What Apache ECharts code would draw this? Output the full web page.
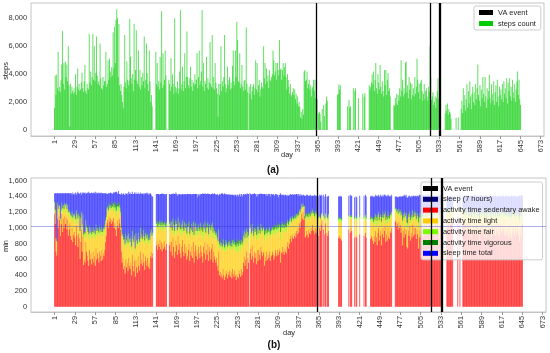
<!DOCTYPE html>
<html><head><meta charset="utf-8">
<script src="https://cdn.jsdelivr.net/npm/echarts@6/dist/echarts.min.js"></script>
<style>html,body{margin:0;padding:0;background:#fff}#c{width:550px;height:353px}</style>
</head><body><div id="c"></div>
<script>
const _ = null;
const tickDays = [1,29,57,85,113,141,169,197,225,253,281,309,337,365,393,421,449,477,505,533,561,589,617,645,673];
const vaDays = [363,520,533,534];
const sleepGoal = 1020;
const steps = [
1600,3900,2500,3950,3000,5600,2800,3100,2700,3600,4700,7100,3300,4800,2900,4900,3800,4700,3500,6000,
3200,240,3300,2600,3100,2800,2600,3000,2700,4000,2500,3100,4400,2900,3300,2800,2900,3400,4100,3000,
2700,3500,4650,2800,2600,3300,3000,2900,6900,3400,4200,3200,3800,6900,3600,6000,3500,4100,6700,3900,
3300,3500,3200,6200,3700,3000,2900,3800,3200,3500,3500,5600,3100,3300,5000,3600,5100,4200,3800,4500,
3900,7000,4400,7400,4800,7900,8650,8000,3800,7600,3200,2800,3300,2500,2000,1550,3100,6800,3400,3000,
4900,3600,3200,3500,7950,5250,3700,3300,4000,2800,7600,3600,4300,7150,3500,3300,5700,3100,4300,2900,
3800,3200,4100,3500,6700,3000,3600,6200,4060,3300,2800,5700,3500,2000,2500,1700,_,_,_,_,
5600,3300,4800,3100,3500,2900,5250,3400,8500,3000,5500,3200,3600,5700,3900,_,_,_,3600,3300,
2800,5150,3100,4000,3300,2600,8000,3100,2700,3000,3500,2600,3000,4200,8600,2900,3300,4550,2800,3500,
5500,3000,3800,7050,3800,3200,3000,3700,4550,3100,3600,2800,3400,3200,4000,3300,3600,5500,3000,3800,
5700,3200,3500,4200,8600,3100,4800,2800,3500,3300,5250,3000,3700,2900,3400,6300,3300,3100,6800,3000,
3800,2900,4800,3400,3000,2600,950,3300,2500,3300,6000,2800,3500,3100,3800,6800,3300,2700,3000,4550,
3200,3600,3800,2900,3400,3000,4600,5700,3500,3200,5700,3800,7750,6450,3500,3400,5500,3000,3300,4650,
3100,2800,3500,3600,2900,7350,3300,2700,_,3100,2600,3300,2200,2800,3100,3300,2500,3000,5000,2900,
4800,2700,3200,3600,2400,2900,3400,3100,3000,6000,3700,4800,3300,4400,3500,3900,3000,4300,3600,3500,
3800,4000,5700,5000,3900,4200,4800,3600,4800,4300,3900,6450,4300,4400,3600,4300,4800,3900,4500,4780,
3800,2900,4000,3600,3100,2600,3300,2400,2500,2700,3000,2500,2900,2200,2600,1900,2400,1700,2000,1670,
900,1300,800,1500,1100,4200,4300,3500,3600,4200,3000,3300,3600,2900,3200,2400,3000,3100,3600,2800,
3600,2300,_,2200,_,1200,1300,1150,600,_,1500,_,1800,1000,_,1900,2400,2100,_,_,
_,_,_,_,_,_,_,_,_,_,_,2500,2600,3270,2900,3200,_,_,_,_,
_,_,_,_,_,1700,_,2150,1600,1700,_,_,_,3000,_,2800,3000,_,_,_,
2300,_,_,_,_,_,2600,_,2400,2630,_,_,_,_,_,3200,2900,3100,3400,4000,
3300,4200,2800,3600,4800,3000,2600,4000,3400,2900,4660,3100,2600,3500,2800,2400,4300,3200,4300,2500,
3600,4060,2800,3000,2400,_,_,_,_,1800,1700,2300,1900,2600,1800,2500,2100,3000,2400,5000,
2800,3600,2400,3000,2600,4800,4900,2700,3200,2300,3800,2900,3400,2200,3300,2500,3000,2400,3800,2600,
3100,5100,3600,2700,3300,2200,3400,3600,2800,2100,2600,3300,2200,2800,3000,2400,2100,3100,2700,6000,
3800,2150,2400,2700,1800,2000,2400,1600,2300,2800,3700,2200,1900,_,_,_,_,_,_,_,
1200,1800,1400,1900,1100,1500,1300,1200,800,_,_,_,_,_,_,900,_,_,900,_,
_,_,1500,2100,1200,3000,1800,2500,1400,2200,3300,1600,2800,1900,3500,2400,1500,2600,3100,2000,
2700,1800,3300,2200,3000,4700,2500,2100,3200,1700,2900,2300,3800,2600,2000,3800,2400,1600,3000,2200,
2800,3950,2300,1900,3300,2600,2100,3500,1800,2700,3200,2000,3600,2400,1700,3100,2500,2900,2200,3300,
2000,3500,2600,3000,2300,3700,1900,3400,2800,3700,2400,3100,2100,3600,2700,2300,3300,2000,2900,3500,
4200,2500,3600,2200,1800];
const sedentary = [
1180,1050,700,650,1120,1000,1150,1100,900,1050,1180,950,1120,1000,1150,1050,1130,980,1100,900,
980,1060,900,850,1000,820,910,950,880,780,1020,900,760,930,870,610,820,980,700,900,
530,600,560,820,700,650,580,520,720,600,680,540,610,700,560,640,520,750,600,680,
620,560,700,650,580,720,600,680,640,720,820,900,1060,1100,1000,1140,1080,1120,1050,1100,
1080,1130,1000,1060,980,900,1020,1100,1000,1120,1060,980,700,560,620,480,520,420,600,500,
560,450,620,520,480,560,400,660,520,450,580,380,600,500,430,640,520,460,700,550,
600,520,680,560,470,640,580,520,620,500,560,480,640,700,620,680,_,_,_,_,
780,840,720,800,760,850,730,820,700,800,740,830,760,720,800,_,_,_,780,820,
700,820,650,880,760,620,700,840,780,660,900,720,800,680,620,760,850,700,640,800,
680,760,600,640,720,800,580,700,650,760,620,820,560,700,780,640,720,600,760,680,
620,780,700,640,560,760,680,820,600,720,660,800,580,760,700,600,740,800,560,700,
640,600,560,620,520,460,700,400,440,380,420,360,480,400,340,380,460,420,360,440,
400,460,380,440,360,480,420,380,460,400,340,420,380,360,460,420,380,480,400,440,
560,640,520,600,700,480,620,560,_,680,740,600,780,640,560,700,620,680,540,720,
580,720,660,600,760,700,640,680,700,520,640,580,700,600,660,620,700,580,640,660,
700,660,600,640,720,680,640,720,660,700,740,560,700,680,760,700,660,740,700,680,
760,820,740,800,860,900,820,920,880,860,900,940,880,960,920,1000,940,1060,1000,1080,
1180,1120,1200,1100,1150,880,900,960,920,880,980,940,920,1000,960,1040,980,960,920,1000,
940,980,_,900,_,1000,960,1040,1100,_,980,_,920,1060,_,940,900,960,_,_,
_,_,_,_,_,_,_,_,_,_,_,880,900,860,880,840,_,_,_,_,
_,_,_,_,_,980,_,940,1000,960,_,_,_,880,_,900,880,_,_,_,
920,_,_,_,_,_,900,_,940,880,_,_,_,_,_,860,900,880,840,800,
900,820,960,880,780,940,1000,840,900,960,780,920,1000,880,960,1020,820,920,840,1000,
880,860,960,940,1000,_,_,_,_,1080,1100,1020,1060,980,1080,1000,1040,940,1000,780,
960,880,1000,920,980,760,740,960,900,1020,840,940,880,1040,900,1000,920,1000,860,980,
920,740,880,980,900,1040,900,880,960,1060,1000,900,1040,960,940,1020,1060,920,980,700,
860,1020,980,960,1080,1040,980,1100,1000,960,860,1020,1060,_,_,_,_,_,_,_,
1080,1000,1060,980,1100,1040,1060,1080,1140,_,_,_,_,_,_,1120,_,_,1120,_,
_,_,1060,1000,1100,920,1040,960,1080,1000,900,1060,940,1040,880,980,1060,960,920,1020,
960,1040,920,1000,940,780,980,1020,920,1060,960,1000,880,960,1020,880,980,1060,940,1000,
960,860,1000,1040,920,980,1020,900,1060,960,920,1040,900,980,1060,940,980,960,1000,920,
1020,900,980,940,1000,880,1040,920,960,880,1000,940,1020,900,960,1000,920,1040,960,900,
820,980,900,1020,1060];
const light = [
120,150,140,160,170,200,120,150,180,150,110,250,140,200,140,200,150,220,160,250,
200,120,230,250,180,260,220,200,230,280,170,230,300,210,240,300,260,190,280,230,
330,300,320,240,280,300,320,340,260,300,280,330,300,270,330,290,340,250,310,280,
300,330,280,290,320,260,300,280,300,270,230,200,160,140,180,130,150,140,170,150,
150,140,200,180,220,250,200,140,210,130,160,180,250,300,260,320,300,330,280,300,
300,320,260,300,290,280,320,250,300,330,270,320,280,300,330,250,300,320,250,280,
280,300,250,290,320,260,280,310,260,300,290,320,260,240,250,230,_,_,_,_,
230,200,250,220,240,200,250,210,260,220,250,200,240,250,220,_,_,_,230,210,
260,220,280,200,240,290,260,210,230,270,190,250,230,270,280,240,200,250,280,230,
280,250,290,300,260,240,300,260,280,250,290,220,310,270,240,280,260,300,240,270,
290,240,260,280,300,240,270,220,300,260,280,230,300,240,260,290,250,230,300,260,
280,300,300,280,320,330,250,350,340,350,320,360,330,350,370,330,340,340,360,330,
340,330,350,330,360,320,340,340,320,340,350,340,330,330,330,340,340,320,350,330,
300,280,310,290,260,320,290,300,_,270,250,290,240,280,300,260,290,270,310,260,
290,260,270,290,250,260,280,270,270,310,280,290,260,290,270,290,270,290,280,280,
270,280,300,290,260,280,280,260,290,280,260,300,280,270,250,280,280,260,270,270,
260,240,260,240,220,200,230,200,210,220,200,190,210,180,200,160,190,140,170,140,
100,130,90,140,110,210,210,190,200,220,180,200,200,180,190,160,180,190,200,180,
200,180,_,200,_,120,140,110,80,_,150,_,170,100,_,170,190,180,_,_,
_,_,_,_,_,_,_,_,_,_,_,200,190,220,200,220,_,_,_,_,
_,_,_,_,_,150,_,170,140,160,_,_,_,210,_,200,210,_,_,_,
190,_,_,_,_,_,200,_,190,210,_,_,_,_,_,220,200,210,230,240,
200,230,180,210,250,190,170,220,200,180,240,190,170,210,180,160,230,190,220,170,
210,220,180,190,170,_,_,_,_,140,130,160,150,170,140,170,150,190,170,250,
180,210,170,200,180,250,260,180,200,160,220,190,210,160,200,170,200,170,210,180,
200,260,210,180,200,160,210,210,190,150,170,200,160,190,190,170,150,200,180,280,
220,160,180,180,140,160,180,130,170,180,220,160,150,_,_,_,_,_,_,_,
140,170,150,180,130,160,150,140,110,_,_,_,_,_,_,120,_,_,120,_,
_,_,150,170,130,200,160,190,140,170,210,150,200,160,220,180,150,190,200,170,
190,160,200,170,200,250,180,170,200,150,190,170,220,190,170,220,180,150,200,170,
190,220,170,160,200,180,170,210,150,190,200,160,210,180,150,200,180,190,170,200,
170,210,180,200,170,220,160,200,190,220,180,200,170,210,190,180,200,160,190,210,
240,180,210,170,150];
const fair = [
30,30,30,20,30,40,20,30,30,30,30,50,30,40,20,40,30,40,30,50,
40,20,40,50,30,50,40,30,40,50,30,40,60,40,40,50,50,30,50,40,
50,40,50,40,40,50,50,60,40,40,40,50,40,40,50,40,60,40,50,40,
40,50,40,40,50,40,50,40,40,40,40,40,30,30,40,30,30,30,30,30,
40,40,60,50,60,70,50,40,60,40,40,40,50,40,40,50,40,40,40,40,
40,40,50,40,50,40,40,50,40,40,50,40,50,40,40,50,40,40,50,40,
40,40,40,40,50,40,40,40,40,40,40,50,40,40,30,30,_,_,_,_,
40,40,50,40,40,40,50,40,70,40,50,40,40,50,40,_,_,_,40,40,
40,40,40,40,40,50,80,40,40,40,40,40,40,40,80,40,40,40,40,40,
40,40,40,70,40,40,40,40,40,40,40,40,40,40,40,40,40,60,40,40,
50,40,40,50,90,40,40,40,40,40,60,40,40,40,40,80,40,40,80,40,
40,40,50,40,40,40,30,40,40,40,70,40,40,40,40,70,40,40,40,50,
40,40,40,40,40,40,50,70,40,40,70,40,90,80,40,40,70,40,40,50,
40,40,40,40,30,80,40,40,_,40,40,40,30,40,40,40,40,40,60,40,
60,40,40,40,40,40,40,40,40,80,40,60,40,50,40,40,40,50,40,40,
40,40,70,60,40,40,60,50,50,40,40,90,50,50,40,50,60,40,50,60,
40,30,40,40,30,30,30,30,30,30,30,30,30,30,30,20,30,20,30,20,
20,20,20,30,20,40,40,30,30,40,30,30,30,30,30,30,30,30,30,30,
30,30,_,30,_,20,20,20,10,_,20,_,30,20,_,30,30,30,_,_,
_,_,_,_,_,_,_,_,_,_,_,30,30,40,30,40,_,_,_,_,
_,_,_,_,_,20,_,30,20,20,_,_,_,30,_,30,30,_,_,_,
30,_,_,_,_,_,30,_,30,30,_,_,_,_,_,30,30,30,40,40,
30,50,30,40,60,30,30,40,40,30,60,30,30,40,30,30,50,30,50,30,
40,40,30,30,30,_,_,_,_,20,20,30,20,30,20,30,30,30,30,60,
30,40,30,30,30,60,60,30,40,30,40,30,40,20,40,30,30,30,40,30,
30,70,40,30,40,30,40,40,30,30,30,40,30,30,30,30,30,30,30,80,
40,30,30,30,20,30,30,20,30,30,40,30,20,_,_,_,_,_,_,_,
20,30,20,30,20,30,20,20,20,_,_,_,_,_,_,20,_,_,20,_,
_,_,20,30,20,40,30,30,20,30,40,20,30,30,40,30,20,30,40,30,
30,20,40,30,30,60,30,30,40,20,30,30,40,30,30,40,30,20,30,30,
30,40,30,20,30,30,30,40,20,30,30,20,40,30,20,30,30,30,30,40,
20,40,30,30,30,40,20,30,30,40,30,30,20,40,30,30,30,20,30,40,
50,30,40,30,20];
const vigorous = [
0,10,10,0,10,20,0,10,10,10,10,30,0,20,10,10,10,20,10,20,
20,0,20,10,10,20,10,10,20,20,10,20,30,20,10,20,20,10,20,20,
20,20,20,10,20,20,10,20,20,20,20,20,20,20,20,20,20,10,20,20,
20,20,20,20,20,20,10,20,20,20,20,20,20,20,20,30,30,40,30,30,
30,30,40,40,60,60,40,30,50,30,30,20,30,20,30,30,20,20,40,30,
30,20,40,20,30,20,20,40,20,20,30,20,30,20,20,30,20,20,30,20,
30,20,30,20,40,30,20,40,30,20,40,20,30,20,10,10,_,_,_,_,
30,20,30,20,30,20,30,20,60,20,30,20,30,30,20,_,_,_,20,20,
20,20,30,20,30,20,60,20,30,20,20,30,20,30,60,20,20,30,20,20,
30,20,30,50,30,20,30,30,30,20,30,20,30,30,20,30,30,40,20,30,
30,20,20,40,70,20,20,20,20,20,50,20,20,20,20,60,20,20,70,20,
30,20,30,30,30,20,10,30,20,20,50,20,20,20,20,60,20,20,20,30,
30,30,30,30,30,20,30,60,30,30,60,30,70,70,30,30,50,20,30,40,
30,20,30,20,20,70,20,20,_,20,20,20,20,20,30,20,20,20,50,20,
50,20,20,30,20,20,20,20,20,60,20,50,20,40,20,20,20,40,20,30,
20,30,50,40,20,30,50,40,40,30,20,70,40,40,20,40,40,30,40,40,
30,20,30,20,20,20,20,20,20,20,20,20,20,20,20,10,20,10,20,10,
10,10,10,10,10,30,30,30,30,30,20,20,30,20,20,20,20,20,30,20,
20,20,_,20,_,10,10,10,0,_,10,_,20,10,_,20,20,20,_,_,
_,_,_,_,_,_,_,_,_,_,_,20,20,30,20,20,_,_,_,_,
_,_,_,_,_,10,_,20,10,10,_,_,_,20,_,20,20,_,_,_,
20,_,_,_,_,_,20,_,20,20,_,_,_,_,_,20,20,20,30,30,
20,40,20,30,50,20,10,40,20,20,50,20,20,30,20,10,40,20,40,20,
30,30,20,20,20,_,_,_,_,10,10,20,10,20,10,20,10,20,20,50,
20,30,20,20,20,50,50,20,30,20,30,20,30,10,30,20,20,20,30,20,
20,60,30,20,30,10,30,30,20,10,20,30,10,20,20,20,10,30,20,70,
30,20,20,20,10,10,20,10,20,20,30,20,10,_,_,_,_,_,_,_,
10,20,10,20,10,10,10,10,10,_,_,_,_,_,_,10,_,_,10,_,
_,_,10,20,10,30,10,20,10,20,30,10,20,10,30,20,10,20,30,20,
20,10,30,20,20,50,20,20,30,10,20,20,30,20,20,30,20,10,20,20,
20,30,20,10,30,20,10,30,10,20,30,10,30,20,10,20,20,20,20,20,
10,30,20,20,20,30,10,30,20,30,20,20,10,30,20,20,30,10,20,30,
40,20,30,20,10];
const sleepTotal = [
110,200,560,610,110,180,150,150,320,200,110,160,150,180,120,140,120,180,140,220,
200,240,250,280,200,300,250,230,270,320,190,250,310,240,270,460,300,210,400,250,
520,480,500,320,400,430,480,520,400,480,420,510,470,410,490,450,520,380,470,420,
460,490,400,440,480,400,480,420,440,390,330,280,160,140,200,110,150,120,160,130,
130,110,150,120,140,180,140,120,150,110,140,200,410,500,480,560,540,610,480,560,
510,590,490,550,600,530,650,460,550,590,520,670,490,570,610,480,550,590,420,540,
490,550,440,510,560,470,510,540,490,560,510,560,470,420,490,450,_,_,_,_,
350,330,380,350,350,320,370,340,350,350,360,340,350,380,350,_,_,_,360,340,
400,330,430,300,360,450,330,340,350,420,280,380,340,400,390,360,320,410,440,340,
400,350,470,370,380,330,480,400,430,350,450,330,490,390,350,440,380,390,360,410,
420,350,410,420,420,370,420,340,470,390,380,350,490,370,410,390,380,350,420,410,
450,470,480,450,520,570,420,610,580,640,580,660,560,610,670,590,560,610,640,570,
620,560,620,580,630,560,580,560,570,610,580,590,550,560,560,600,560,570,600,540,
500,440,530,480,410,490,460,510,_,430,380,470,360,450,500,420,460,420,440,390,
430,390,440,470,370,410,450,420,400,460,450,430,410,430,440,460,400,440,450,420,
390,420,400,380,390,400,390,350,350,370,360,420,350,380,350,350,370,350,360,360,
330,300,340,320,290,280,320,250,290,290,270,250,280,240,260,220,250,180,210,160,
110,130,100,140,120,250,230,210,240,240,200,220,240,180,210,160,200,210,240,180,
220,200,_,250,_,270,280,240,220,_,260,_,260,240,_,240,260,220,_,_,
_,_,_,_,_,_,_,_,_,_,_,270,260,260,270,280,_,_,_,_,
_,_,_,_,_,250,_,260,240,260,_,_,_,250,_,250,250,_,_,_,
250,_,_,_,_,_,260,_,240,260,_,_,_,_,_,270,260,260,270,280,
250,260,230,250,260,230,210,250,250,230,270,240,200,240,230,200,270,240,260,200,
250,250,220,220,200,_,_,_,_,150,140,170,150,190,150,180,170,220,180,260,
220,250,200,230,210,270,270,210,240,180,260,220,250,170,240,190,230,190,260,200,
240,270,260,210,240,170,240,250,220,160,200,240,170,220,230,190,160,240,210,280,
260,180,200,220,150,170,200,140,190,220,260,190,160,_,_,_,_,_,_,_,
150,180,160,190,140,170,160,150,130,_,_,_,_,_,_,150,_,_,150,_,
_,_,160,190,140,230,170,200,150,190,230,160,210,170,240,190,160,200,230,180,
200,170,220,190,210,270,200,180,220,160,200,190,240,200,180,240,190,160,210,190,
200,250,190,170,220,200,180,230,160,200,220,170,230,190,160,210,200,200,190,220,
180,230,200,210,190,240,170,220,200,240,180,210,180,230,200,180,220,170,200,230,
260,200,230,180,170];

const FONT = "'Liberation Sans', Arial, sans-serif";
const FS = 7.4;
const dayFirst = -31, dayLast = 677;
const cats = [];
for (let d = dayFirst; d <= dayLast; d++) cats.push(String(d));
function align(arr) { return cats.map(c => { const d = +c; return (d >= 1 && d <= arr.length) ? arr[d - 1] : null; }); }
const tickSet = new Set(tickDays);
const tickFn = (i, v) => tickSet.has(+v);

function xAxisCfg(gi) {
  return {
    type: 'category', gridIndex: gi, data: cats, boundaryGap: true,
    axisLine: { show: true, onZero: false, lineStyle: { color: '#c4c4c4' } },
    axisTick: { show: true, alignWithLabel: true, interval: tickFn, length: 3, lineStyle: { color: '#999' } },
    axisLabel: { interval: tickFn, rotate: 90, fontSize: FS, color: '#333', margin: 4, fontFamily: FONT },
    splitLine: { show: false }
  };
}
function yAxisCfg(gi, mn, mx, split, step) {
  return {
    type: 'value', gridIndex: gi, min: mn, max: mx, splitNumber: split,
    axisLine: { show: false }, axisTick: { show: false }, splitLine: { show: false },
    axisLabel: { fontSize: FS, color: '#333', margin: 4, fontFamily: FONT,
      formatter: v => (v >= 0 && Math.abs(v % step) < 1e-6) ? Math.round(v).toLocaleString('en-US') : '' }
  };
}
const barBase = { type: 'bar', barWidth: '80%', barMinWidth: 0, barGap: '-100%', animation: false, large: false };
const emptyLine = cats.map(() => null);
const vaMark = {
  symbol: ['none', 'none'], silent: true, label: { show: false }, animation: false,
  lineStyle: { color: '#000', width: 1.3, type: 'solid', opacity: 1 },
  data: vaDays.map(d => ({ xAxis: String(d) }))
};
const legendCommon = {
  orient: 'vertical', icon: 'rect', itemWidth: 15, itemHeight: 5,
  backgroundColor: 'rgba(255,255,255,0.8)', borderColor: '#ccc', borderWidth: 1, borderRadius: 2,
  textStyle: { fontSize: FS, lineHeight: 9, color: '#222', fontFamily: FONT },
  itemStyle: { opacity: 1 }
};

const option = {
  animation: false,
  grid: [
    { left: 31, top: 3, width: 513, height: 133, show: true, borderColor: '#c4c4c4', borderWidth: 1 },
    { left: 31, top: 178, width: 515, height: 134, show: true, borderColor: '#c4c4c4', borderWidth: 1 }
  ],
  xAxis: [xAxisCfg(0), xAxisCfg(1)],
  yAxis: [yAxisCfg(0, -430, 9100, 5, 2000), yAxisCfg(1, -67, 1634, 8, 200)],
  legend: [
    Object.assign({}, legendCommon, { data: ['VA event', 'steps count'], left: 474, top: 6, itemWidth: 14, itemGap: 2, padding: [2, 5, 2, 5] }),
    Object.assign({}, legendCommon, { data: ['VA event', 'sleep (7 hours)', 'activity time sedentary awake', 'activity time light', 'activity time fair', 'activity time vigorous', 'sleep time total'], left: 421, top: 182, itemGap: 1.8, padding: [2, 3, 2, 2] })
  ],
  series: [
    Object.assign({}, barBase, { name: 'steps count', xAxisIndex: 0, yAxisIndex: 0, data: align(steps), itemStyle: { color: '#00cc00', opacity: 0.62 } }),
    { type: 'line', name: 'VA event', xAxisIndex: 0, yAxisIndex: 0, data: emptyLine, color: '#000', showSymbol: false, z: 5, markLine: vaMark },
    Object.assign({}, barBase, { name: 'activity time sedentary awake', stack: 'b', xAxisIndex: 1, yAxisIndex: 1, data: align(sedentary), itemStyle: { color: '#ff0000', opacity: 0.65 } }),
    Object.assign({}, barBase, { name: 'activity time light', stack: 'b', xAxisIndex: 1, yAxisIndex: 1, data: align(light), itemStyle: { color: '#ffcc00', opacity: 0.68 } }),
    Object.assign({}, barBase, { name: 'activity time fair', stack: 'b', xAxisIndex: 1, yAxisIndex: 1, data: align(fair), itemStyle: { color: '#7cfc00', opacity: 0.68 } }),
    Object.assign({}, barBase, { name: 'activity time vigorous', stack: 'b', xAxisIndex: 1, yAxisIndex: 1, data: align(vigorous), itemStyle: { color: '#008000', opacity: 0.68 } }),
    Object.assign({}, barBase, { name: 'sleep time total', stack: 'b', xAxisIndex: 1, yAxisIndex: 1, data: align(sleepTotal), itemStyle: { color: '#0000ff', opacity: 0.58 } }),
    { type: 'line', name: 'sleep (7 hours)', xAxisIndex: 1, yAxisIndex: 1, data: emptyLine, color: '#000080', showSymbol: false, z: 4,
      markLine: { symbol: ['none', 'none'], silent: true, label: { show: false }, animation: false,
        lineStyle: { color: '#3333cc', width: 1, type: 'solid', opacity: 0.4 }, data: [{ yAxis: sleepGoal }] } },
    { type: 'line', name: 'VA event', xAxisIndex: 1, yAxisIndex: 1, data: emptyLine, color: '#000', showSymbol: false, z: 5, markLine: vaMark }
  ],
  graphic: [
    { type: 'text', x: 6, y: 71, rotation: Math.PI / 2, style: { text: 'steps', font: FS + 'px ' + FONT, fill: '#222', textAlign: 'center', textVerticalAlign: 'middle', align: 'center', verticalAlign: 'middle' } },
    { type: 'text', x: 6, y: 246, rotation: Math.PI / 2, style: { text: 'min', font: FS + 'px ' + FONT, fill: '#222', textAlign: 'center', textVerticalAlign: 'middle', align: 'center', verticalAlign: 'middle' } },
    { type: 'text', x: 287, y: 154.5, style: { text: 'day', font: FS + 'px ' + FONT, fill: '#222', textAlign: 'center', textVerticalAlign: 'middle', align: 'center', verticalAlign: 'middle' } },
    { type: 'text', x: 289, y: 332.5, style: { text: 'day', font: FS + 'px ' + FONT, fill: '#222', textAlign: 'center', textVerticalAlign: 'middle', align: 'center', verticalAlign: 'middle' } },
    { type: 'text', x: 273, y: 170, style: { text: '(a)', font: 'bold 10px ' + FONT, fill: '#111', textAlign: 'center', textVerticalAlign: 'middle', align: 'center', verticalAlign: 'middle' } },
    { type: 'text', x: 274, y: 345, style: { text: '(b)', font: 'bold 10px ' + FONT, fill: '#111', textAlign: 'center', textVerticalAlign: 'middle', align: 'center', verticalAlign: 'middle' } }
  ]
};
const chart = echarts.init(document.getElementById('c'), null, { renderer: 'canvas' });
chart.setOption(option);
</script>
</body></html>
